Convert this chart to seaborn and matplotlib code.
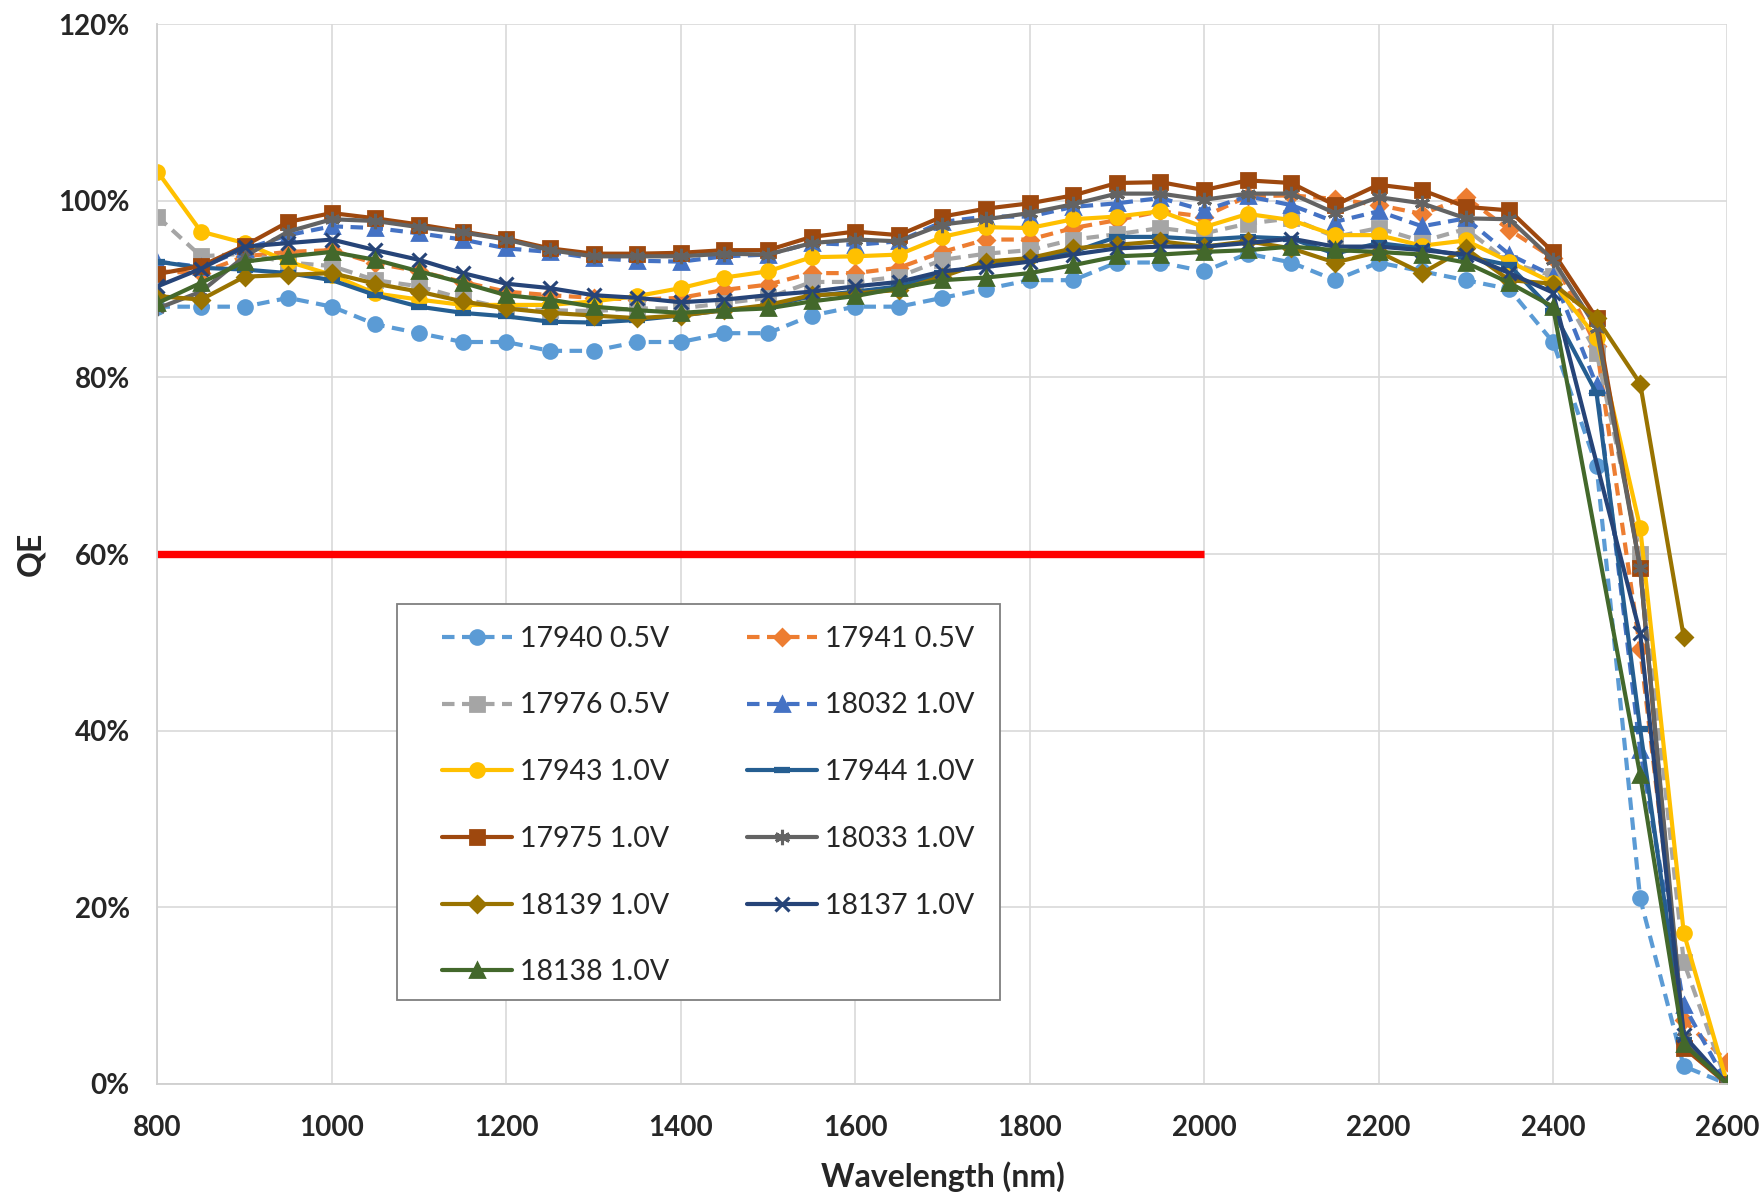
import numpy as np
import pandas as pd
import matplotlib
matplotlib.use("Agg")
import matplotlib.pyplot as plt
from matplotlib.patches import Rectangle
from matplotlib.ticker import PercentFormatter
import seaborn as sns

# ---------------- data ----------------
wavelength = list(range(800, 2601, 50))

qe_17940 = [88, 88, 88, 89, 88, 86, 85, 84, 84, 83, 83, 84, 84, 85, 85, 87, 88, 88, 89, 90,
            91, 91, 93, 93, 92, 94, 93, 91, 93, 92, 91, 90, 84, 70, 21, 2, 0]
qe_17941 = [92, 91.8, 93.7, 94.2, 94.4, 92.9, 92, 90.8, 89.7, 89.3, 89, 88.8, 89, 89.9, 90.5, 91.8, 91.8, 92.4, 94.2, 95.6,
            95.6, 96.9, 97.8, 98.8, 98.2, 100.5, 100.6, 100.2, 99.5, 98.5, 100.4, 96.7, 93.5, 83.5, 49.2, 7.2, 2.5]
qe_17976 = [98.2, 93.7, 94, 93, 92.6, 91, 90.3, 88.9, 87.8, 87.6, 87.5, 87.8, 87.8, 88.4, 89, 90.8, 90.8, 91.4, 93.3, 94,
            94.4, 95.6, 96.2, 96.9, 96.3, 97.4, 98, 95.9, 96.9, 95.4, 96.8, 93, 91.5, 82.8, 60, 13.8, 0]
qe_18032 = [93.1, 92.5, 94.5, 96.1, 97.1, 96.9, 96.3, 95.6, 94.6, 94.2, 93.5, 93.2, 93.1, 93.7, 93.9, 95.2, 95, 95.4, 97.6, 98.2,
            98.2, 99.3, 99.7, 100.3, 98.9, 100.5, 99.5, 97.6, 98.8, 97.1, 98, 93.9, 91.5, 79.1, 37.8, 8.9, 0]
qe_17943 = [103.3, 96.5, 95.2, 93.1, 91.6, 89.5, 88.8, 88.2, 88.2, 88.2, 88.6, 89.2, 90.1, 91.3, 92, 93.6, 93.7, 93.9, 95.9, 97,
            96.9, 97.9, 98.2, 98.8, 97, 98.5, 97.8, 96.1, 96.1, 94.9, 95.5, 93.1, 90.7, 84.5, 63, 17.1, 0]
qe_17944 = [93.1, 92.4, 92.2, 91.8, 91, 89.3, 88, 87.3, 86.9, 86.3, 86.2, 86.5, 87, 87.6, 88, 89.2, 89.7, 90.3, 91.8, 92.7,
            93.3, 94.2, 95.9, 95.9, 95.6, 95.9, 95.7, 94, 95.2, 94.6, 93.7, 92.7, 87.5, 78.2, 40.2, 5, 0]
qe_17975 = [91.7, 92.6, 94.9, 97.6, 98.6, 98, 97.3, 96.5, 95.7, 94.6, 94, 94, 94.1, 94.4, 94.4, 95.9, 96.5, 96.1, 98.2, 99.1,
            99.7, 100.6, 102, 102.1, 101.2, 102.3, 102, 99.5, 101.8, 101.2, 99.3, 98.9, 94.2, 86.7, 58.4, 4.1, 0]
qe_18033 = [87.8, 89.7, 93.7, 96.5, 97.9, 97.7, 97, 96.4, 95.6, 94.4, 93.7, 93.7, 93.7, 94, 93.9, 95.2, 95.6, 95.4, 97.3, 97.9,
            98.6, 99.6, 100.8, 100.8, 100.1, 100.8, 100.8, 98.6, 100.4, 99.7, 98, 97.9, 93.3, 85.6, 58.4, 5.3, 0]
qe_18139 = [89.2, 88.8, 91.4, 91.6, 91.8, 90.6, 89.7, 88.6, 87.8, 87.3, 87, 86.7, 87, 87.6, 88.2, 89.3, 89.5, 89.9, 91.4, 93.1,
            93.5, 94.6, 95, 95.4, 94.8, 95.4, 94.6, 93, 94.2, 91.8, 94.6, 91, 90.6, 86.7, 79.3, 50.6, np.nan]
qe_18137 = [90.3, 92.3, 94.8, 95.2, 95.6, 94.4, 93.3, 91.8, 90.6, 90.1, 89.3, 89, 88.5, 88.8, 89.3, 89.7, 90.3, 90.8, 92, 92.5,
            93.1, 93.9, 94.6, 94.8, 94.8, 95.2, 95.7, 94.8, 94.8, 94.4, 93.9, 91.8, 89.6, np.nan, 51, 5.5, 0]
qe_18138 = [88.4, 90.7, 93.1, 93.7, 94.2, 93.3, 92, 90.7, 89.3, 88.8, 88, 87.6, 87.3, 87.6, 87.8, 88.6, 89.2, 90.1, 91, 91.3,
            91.8, 92.7, 93.7, 93.9, 94.2, 94.4, 94.8, 94.4, 94.2, 93.9, 93, 90.7, 88, np.nan, 35, 4.5, 0]

series_labels = ["17940 0.5V", "17941 0.5V", "17976 0.5V", "18032 1.0V", "17943 1.0V", "17944 1.0V",
                 "17975 1.0V", "18033 1.0V", "18139 1.0V", "18137 1.0V", "18138 1.0V"]
series_values = [qe_17940, qe_17941, qe_17976, qe_18032, qe_17943, qe_17944,
                 qe_17975, qe_18033, qe_18139, qe_18137, qe_18138]

target_x = [800, 2000]
target_qe = [60, 60]

x_ticks = list(range(800, 2601, 200))
y_ticks = list(range(0, 121, 20))

# ---------------- styles ----------------
colors = ["#5B9BD5", "#ED7D31", "#A5A5A5", "#4472C4", "#FFC000", "#255E91",
          "#9E480E", "#636363", "#997300", "#264478", "#43682B"]
markers = ["o", "D", "s", "^", "o", "_", "s", (6, 2, 0), "D", "x", "^"]
msizes = [10, 8.5, 9.5, 10, 10, 11, 9.5, 11, 8.5, 10, 10]
dashed = [True, True, True, True, False, False, False, False, False, False, False]

sns.set_style("white")
plt.rcParams["font.family"] = ["Lato", "DejaVu Sans"]

fig = plt.figure(figsize=(17.63, 11.95), dpi=100)
ax = fig.add_axes([0.0893, 0.0929, 0.9798 - 0.0893, 0.9799 - 0.0929])

for lab, vals, c, m, ms, d in zip(series_labels, series_values, colors, markers, msizes, dashed):
    df = pd.DataFrame({"wavelength": wavelength, "qe": vals}).dropna()
    ls = (0, (3.0, 1.8)) if d else "-"
    mew = 2.0
    if m == "_":
        mew = 4.5
    elif m in ("x", (6, 2, 0)):
        mew = 2.2
    sns.lineplot(data=df, x="wavelength", y="qe", ax=ax, color=c, linewidth=3.0,
                 linestyle=ls, marker=m, markersize=ms, markeredgecolor=c,
                 markerfacecolor=c, markeredgewidth=mew, label=lab,
                 errorbar=None, sort=False, legend=False)

tdf = pd.DataFrame({"wavelength": target_x, "qe": target_qe})
sns.lineplot(data=tdf, x="wavelength", y="qe", ax=ax, color="#FF0000", linewidth=5.3,
             errorbar=None, legend=False, solid_capstyle="butt")

ax.set_xlim(800, 2600)
ax.set_ylim(0, 120)
ax.set_xticks(x_ticks)
ax.set_yticks(y_ticks)
ax.yaxis.set_major_formatter(PercentFormatter(xmax=100, decimals=0))
ax.grid(True, color="#D9D9D9", linewidth=1.2)
ax.set_axisbelow(True)
for s in ["top", "right"]:
    ax.spines[s].set_visible(False)
for s in ["left", "bottom"]:
    ax.spines[s].set_color("#CFCFCF")
    ax.spines[s].set_linewidth(1.3)
ax.tick_params(axis="both", length=0, labelsize=20)
ax.tick_params(axis="x", pad=22)
ax.tick_params(axis="y", pad=20)
for t in ax.get_xticklabels() + ax.get_yticklabels():
    t.set_fontweight("bold")

ax.set_xlabel("Wavelength (nm)", fontsize=23, fontweight="bold", labelpad=15)
ax.set_ylabel("QE", fontsize=23, fontweight="bold", labelpad=9)

# legend box
box = Rectangle((0.1524, 0.0792), 0.537 - 0.1524, 0.4528 - 0.0792, transform=ax.transAxes,
                facecolor="white", edgecolor="#7F7F7F", linewidth=1.3, zorder=4.5)
ax.add_patch(box)

handles, labels = ax.get_legend_handles_labels()
order = [0, 2, 4, 6, 8, 10, 1, 3, 5, 7, 9]
leg = ax.legend([handles[i] for i in order], [labels[i] for i in order], ncol=2,
                loc="upper left", bbox_to_anchor=(0.1812, 0.4323), borderaxespad=0,
                borderpad=0, frameon=False, fontsize=20.5, handlelength=2.45,
                handletextpad=0.28, columnspacing=2.75, labelspacing=1.43)
leg.set_zorder(5)

fig.savefig("out.png", dpi=100)
